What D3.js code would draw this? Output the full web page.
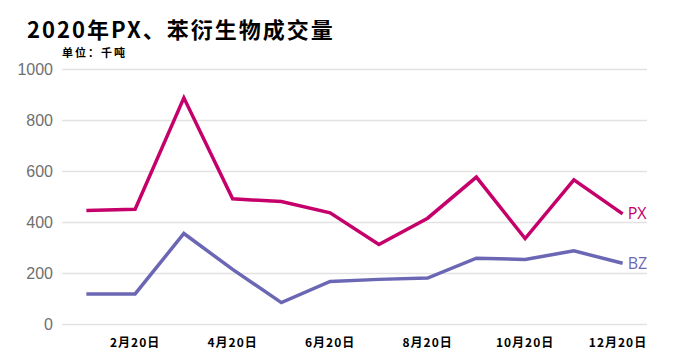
<!DOCTYPE html>
<html>
<head>
<meta charset="utf-8">
<script src="https://cdn.jsdelivr.net/npm/d3@7"></script>
<style>
  body { margin: 0; background: #fff; }
  svg { display: block; }
</style>
</head>
<body>
<svg id="vis" width="684" height="361"></svg>
<script>
// data
const months = [1, 2, 3, 4, 5, 6, 7, 8, 9, 10, 11, 12];
const pxValues = [445, 450, 887, 491, 480, 436, 312, 415, 576, 335, 565, 432];
const bzValues = [118, 118, 355, 214, 84, 167, 175, 180, 258, 253, 287, 238];
const yTicks = [0, 200, 400, 600, 800, 1000];
const xTickMonths = [2, 4, 6, 8, 10, 12];

const series = [
  { name: "PX", values: pxValues, color: "#c6006b" },
  { name: "BZ", values: bzValues, color: "#6b67b4" }
];

const svg = d3.select("#vis");

// SCALE
const x = d3.scaleBand()
  .domain(months)
  .range([62, 647])
  .padding(0);

const y = d3.scaleLinear()
  .domain([0, 1000])
  .range([324, 69]);

const cx = m => x(m) + x.bandwidth() / 2;

// title
svg.append("text")
  .attr("x", 27)
  .attr("y", 38)
  .style("font-family", "'Noto Sans CJK SC', sans-serif")
  .style("font-weight", 700)
  .style("font-size", "22px")
  .style("letter-spacing", "2px")
  .style("fill", "#000")
  .text("2020年PX、苯衍生物成交量");

svg.append("text")
  .attr("x", 62)
  .attr("y", 57)
  .style("font-family", "'Noto Sans CJK SC', sans-serif")
  .style("font-weight", 700)
  .style("font-size", "11px")
  .style("letter-spacing", "2px")
  .style("fill", "#000")
  .text("单位：千吨");

// y axis + grid
const yAxis = d3.axisLeft(y)
  .tickValues(yTicks)
  .tickFormat(d3.format("d"))
  .tickSize(-(647 - 62))
  .tickPadding(9);

const gy = svg.append("g")
  .attr("class", "axis")
  .attr("transform", "translate(62,0)")
  .call(yAxis);

gy.select(".domain").remove();
gy.selectAll("line")
  .attr("stroke", "#e2e2e2")
  .attr("stroke-width", 1.5);
gy.selectAll("text")
  .style("font-family", "'Liberation Sans', Arial, sans-serif")
  .style("font-size", "16px")
  .style("fill", "#6f6f6f");

// x labels
svg.append("g")
  .selectAll("text")
  .data(xTickMonths)
  .join("text")
  .attr("x", d => Math.min(cx(d), 647 - 29))
  .attr("y", 347)
  .attr("text-anchor", "middle")
  .style("font-family", "'Noto Sans CJK SC', sans-serif")
  .style("font-weight", 700)
  .style("font-size", "12px")
  .style("letter-spacing", "1px")
  .style("fill", "#000")
  .text(d => d + "月20日");

// lines
const line = d3.line()
  .x((d, i) => cx(months[i]))
  .y(d => y(d));

svg.append("g")
  .selectAll("path")
  .data(series)
  .join("path")
  .attr("d", d => line(d.values))
  .attr("fill", "none")
  .attr("stroke", d => d.color)
  .attr("stroke-width", 3.5)
  .attr("stroke-linejoin", "miter")
  .attr("stroke-linecap", "butt");

// end labels
svg.append("g")
  .selectAll("text")
  .data(series)
  .join("text")
  .attr("x", cx(12) + 5)
  .attr("y", d => y(d.values[d.values.length - 1]))
  .attr("dy", "0.35em")
  .style("font-family", "'Open Sans', sans-serif")
  .style("font-weight", 400)
  .style("font-size", "16px")
  .style("fill", d => d.color)
  .text(d => d.name);
</script>
</body>
</html>
